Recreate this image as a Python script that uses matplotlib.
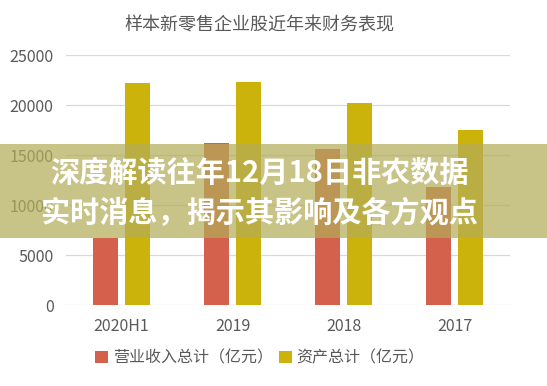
import matplotlib
matplotlib.use("Agg")
import matplotlib.pyplot as plt
from matplotlib.patches import Rectangle
import numpy as np

plt.rcParams['font.family'] = ['Noto Sans CJK SC', 'DejaVu Sans']

# data
categories = ["2020H1", "2019", "2018", "2017"]
revenue = [6700, 16230, 15570, 11830]   # 营业收入总计（亿元）
assets = [22230, 22330, 20200, 17500]   # 资产总计（亿元）
yticks = [0, 5000, 10000, 15000, 20000, 25000]

title = "样本新零售企业股近年来财务表现"
banner_lines = ["深度解读往年12月18日非农数据", "实时消息，揭示其影响及各方观点"]

red = "#D4614B"
gold = "#CCB30C"
gray = "#595959"

fig = plt.figure(figsize=(5.47, 3.86), dpi=100)
ax = fig.add_axes([0.1207, 0.2098, 0.8117, 0.6477])

x = np.arange(len(categories))
w = 0.225
gap = 0.063
ax.bar(x - (w + gap) / 2, revenue, width=w, color=red, label="营业收入总计（亿元）", zorder=2)
ax.bar(x + (w + gap) / 2, assets, width=w, color=gold, label="资产总计（亿元）", zorder=2)

ax.set_xlim(-0.5, len(categories) - 0.5)
ax.set_ylim(0, 25000)
ax.set_yticks(yticks)
ax.set_xticks(x)
ax.set_xticklabels(categories)
ax.tick_params(axis="both", length=0, labelsize=11.5, colors=gray)
ax.tick_params(axis="y", pad=9)
ax.tick_params(axis="x", pad=9)
ax.grid(axis="y", color="#D9D9D9", linewidth=0.9, zorder=0)
for s in ax.spines.values():
    s.set_visible(False)

fig.text(0.475, 0.935, title, ha="center", va="center", fontsize=13, color=gray)

ax.legend(loc="center", bbox_to_anchor=(0.475, 0.073), bbox_transform=fig.transFigure,
          ncol=2, frameon=False, fontsize=11.5, labelcolor=gray, handlelength=0.8,
          handleheight=0.8, handletextpad=0.3, columnspacing=0.4)

# semi-transparent banner with headline
fig.patches.append(Rectangle((0, 0.383), 1, 0.2435, transform=fig.transFigure,
                             facecolor="#B3AC58", alpha=0.72, edgecolor="none", zorder=5))
fig.text(0.475, 0.553, banner_lines[0], ha="center", va="center", fontsize=21,
         fontweight="bold", color="white", zorder=6)
fig.text(0.475, 0.447, banner_lines[1], ha="center", va="center", fontsize=21,
         fontweight="bold", color="white", zorder=6)

fig.savefig("out.png", dpi=100)
